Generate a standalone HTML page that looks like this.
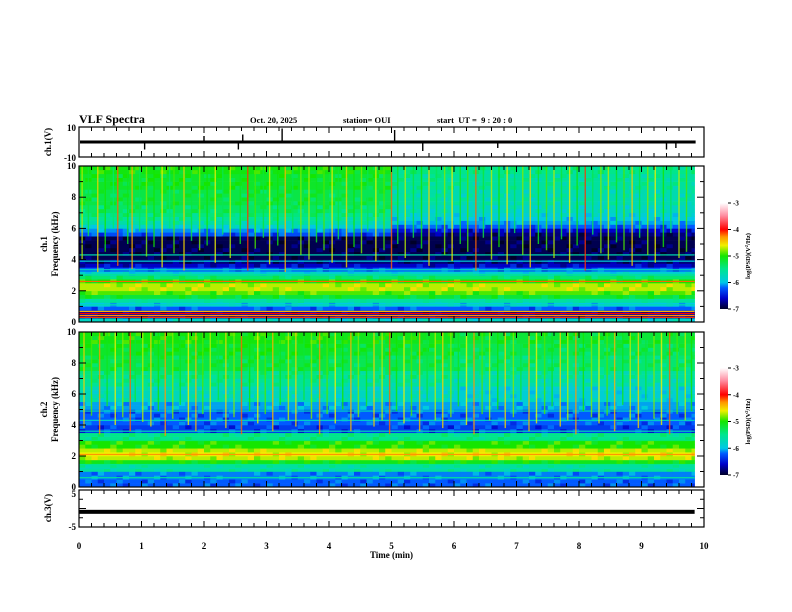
<!DOCTYPE html>
<html><head><meta charset="utf-8"><style>
html,body{margin:0;padding:0;background:#fff}
svg{display:block}
text{font-family:"Liberation Serif",serif;font-weight:bold;fill:#000}
</style></head><body>
<svg id="fig" width="792" height="612" viewBox="0 0 792 612" xmlns="http://www.w3.org/2000/svg">
<defs>
<linearGradient id="cbar" x1="0" y1="1" x2="0" y2="0">
<stop offset="0" stop-color="#000028"/><stop offset="0.1" stop-color="#0000c8"/><stop offset="0.2" stop-color="#005aff"/><stop offset="0.25" stop-color="#00c8e6"/><stop offset="0.38" stop-color="#00e68c"/><stop offset="0.5" stop-color="#14e600"/><stop offset="0.6" stop-color="#f0f000"/><stop offset="0.68" stop-color="#ff9600"/><stop offset="0.75" stop-color="#ff0000"/><stop offset="0.88" stop-color="#ff8ca0"/><stop offset="1" stop-color="#ffffff"/>
</linearGradient>
</defs>
<text x="79" y="123" font-size="12">VLF Spectra</text>
<text x="250" y="123" font-size="8.5">Oct. 20, 2025</text>
<text x="343" y="123" font-size="8.5">station= OUI</text>
<text x="437" y="123" font-size="8.5" xml:space="preserve">start  UT =  9 : 20 : 0</text>
<g id="layer"></g>
</svg>
<script>
// ---- data ----
const timeTicks = [0,1,2,3,4,5,6,7,8,9,10];
const dataEnd = 9.85;
const ch1Profile = [-5.8,-6.7,-6.7,-6.3,-6.0,-5.6,-5.2,-4.9,-4.7,-4.7,-5.0,-5.4,-5.9,-6.3,-6.6,-6.8,-6.9,-6.9,-6.9,-6.9,-6.9,-6.9,-6.4,-6.2,-5.9,-5.7,-5.6,-5.5,-5.4,-5.4,-5.3,-5.3,-5.3,-5.3,-5.2,-5.2,-5.2,-5.2,-5.1,-5.1];
const ch1Offset = [0.05,0.05,0.05,0.05,0.0,-0.35,-0.4,-0.4,-0.4,-0.4];
const ch2Profile = [-6.3,-6.3,-6.2,-6.2,-5.6,-5.6,-5.1,-4.7,-4.6,-4.7,-5.0,-5.0,-5.5,-5.5,-6.4,-6.4,-6.3,-6.3,-6.3,-6.3,-6.1,-6.1,-5.8,-5.8,-5.8,-5.8,-5.6,-5.6,-5.5,-5.5,-5.3,-5.3,-5.3,-5.3,-5.2,-5.2,-5.2,-5.1,-5.1,-5.1];
const ch2Offset = [0.05,0.05,0.05,0.05,0.0,0.0,-0.1,-0.1,-0.1,-0.1];
const streak1T = [0.05,0.15,0.3,0.42,0.55,0.62,0.78,0.85,0.97,1.08,1.2,1.33,1.45,1.52,1.68,1.8,1.93,2.05,2.18,2.3,2.42,2.58,2.7,2.82,2.95,3.05,3.18,3.3,3.42,3.55,3.68,3.8,3.92,4.05,4.15,4.28,4.4,4.52,4.62,4.75,4.88,5.0,5.1,5.22,5.35,5.48,5.6,5.72,5.85,5.97,6.1,6.22,6.35,6.47,6.6,6.72,6.85,6.97,7.1,7.22,7.35,7.48,7.6,7.72,7.85,7.97,8.1,8.22,8.35,8.47,8.6,8.72,8.85,8.97,9.1,9.22,9.35,9.47,9.6,9.72];
const streak1V = [-4.7,-5.2,-4.5,-5.0,-5.4,-4.2,-5.1,-4.4,-5.3,-4.8,-5.0,-4.6,-5.4,-4.9,-4.5,-5.2,-4.8,-5.0,-4.6,-5.3,-4.7,-5.1,-4.1,-4.9,-5.2,-4.6,-5.0,-4.4,-5.3,-4.8,-4.7,-5.1,-4.9,-4.6,-5.2,-4.5,-5.0,-4.8,-5.3,-4.6,-4.9,-4.2,-5.1,-4.7,-5.2,-5.0,-4.5,-5.3,-4.8,-4.6,-5.1,-4.9,-4.2,-5.2,-4.7,-5.0,-4.6,-5.3,-4.8,-4.5,-5.1,-4.9,-4.7,-5.2,-4.6,-5.0,-4.1,-5.3,-4.8,-4.7,-5.1,-4.9,-4.5,-5.2,-4.8,-4.6,-5.0,-5.3,-4.7,-4.9];
const streak1F = [4.0,5.5,3.2,4.5,6.0,3.6,5.0,3.4,5.8,4.2,4.8,3.5,6.0,4.4,3.3,5.2,4.6,4.9,3.8,5.6,4.1,5.0,3.3,4.7,5.4,3.7,4.9,3.2,5.7,4.3,4.0,5.1,4.6,3.8,5.3,3.5,4.8,4.4,5.8,3.9,4.6,3.4,5.0,4.1,5.4,4.7,3.6,5.8,4.3,3.9,5.0,4.5,3.3,5.4,4.0,4.8,3.7,5.7,4.3,3.5,5.0,4.6,4.1,5.3,3.8,4.9,3.3,5.6,4.4,4.0,5.1,4.6,3.6,5.4,4.3,3.8,4.8,5.7,4.1,4.5];
const streak2T = [0.08,0.2,0.33,0.45,0.58,0.7,0.82,0.9,1.02,1.15,1.27,1.38,1.5,1.62,1.75,1.87,1.98,2.1,2.23,2.35,2.48,2.6,2.73,2.86,2.98,3.1,3.22,3.35,3.47,3.6,3.72,3.85,3.97,4.1,4.22,4.35,4.47,4.6,4.72,4.85,4.97,5.08,5.2,5.32,5.45,5.57,5.7,5.82,5.95,6.07,6.2,6.32,6.45,6.57,6.7,6.82,6.95,7.07,7.2,7.32,7.45,7.57,7.7,7.82,7.95,8.07,8.2,8.32,8.45,8.57,8.7,8.82,8.95,9.07,9.2,9.32,9.45,9.57,9.7,9.8];
const streak2V = [-4.5,-4.9,-4.3,-5.1,-4.6,-4.8,-4.2,-5.2,-4.7,-4.5,-5.0,-4.3,-4.8,-5.1,-4.6,-4.4,-4.9,-4.7,-5.2,-4.5,-4.8,-4.2,-5.0,-4.6,-4.9,-4.4,-5.1,-4.7,-4.5,-5.2,-4.8,-4.3,-4.9,-4.6,-5.0,-4.4,-4.8,-5.1,-4.5,-4.7,-4.2,-5.0,-4.6,-4.9,-4.4,-5.2,-4.7,-4.5,-4.8,-5.1,-4.6,-4.3,-4.9,-4.7,-5.0,-4.5,-4.8,-5.2,-4.4,-4.6,-4.9,-5.1,-4.5,-4.7,-4.3,-5.0,-4.8,-4.6,-4.9,-4.4,-5.1,-4.7,-4.5,-5.2,-4.8,-4.6,-4.2,-4.9,-4.7,-5.0];
const streak2F = [3.8,4.6,3.4,5.2,4.0,4.5,3.6,5.5,4.2,3.9,4.9,3.3,4.4,5.3,4.0,3.6,4.7,4.3,5.6,3.8,4.5,3.4,4.9,4.1,4.7,3.6,5.3,4.3,3.9,5.6,4.4,3.4,4.7,4.1,5.0,3.6,4.5,5.2,3.9,4.3,3.4,4.9,4.1,4.6,3.6,5.5,4.3,3.8,4.5,5.2,4.0,3.4,4.7,4.3,5.0,3.8,4.5,5.6,3.6,4.1,4.7,5.2,3.9,4.3,3.4,4.9,4.5,4.1,4.6,3.6,5.3,4.3,3.8,5.6,4.4,4.0,3.4,4.7,4.3,4.9];
const line1F = [0.3,0.42,0.55,0.68,1.1,1.35,2.6,3.05,3.35,3.9,4.3];
const line1V = [-4.1,-4.3,-4.0,-4.4,-5.7,-5.6,-4.2,-5.6,-5.8,-5.9,-5.7];
const line2F = [0.6,1.2,1.45,2.1,3.0,3.6,4.3,4.9];
const line2V = [-5.6,-5.7,-5.5,-4.3,-5.4,-5.7,-5.8,-5.8];
const spikeT = [1.05,2.0,2.55,2.62,3.25,5.05,5.5,6.7,9.4,9.55];
const spikeV = [-5,4,-5,5,9,8,-6,-4,-5,-4];
const ch3Level = -0.9;

// ---- layout ----
const X0=79, X1=704, L=document.getElementById('layer'), NS='http://www.w3.org/2000/svg';
const xs = t => X0 + (X1-X0)*t/10;
function mk(tag, attrs, parent){const e=document.createElementNS(NS,tag);for(const k in attrs)e.setAttribute(k,attrs[k]);(parent||L).appendChild(e);return e;}
const stops=[[-7,[0,0,40]],[-6.6,[0,0,200]],[-6.3,[0,90,255]],[-6.0,[0,200,230]],[-5.5,[0,230,140]],[-5.0,[20,230,0]],[-4.6,[240,240,0]],[-4.3,[255,150,0]],[-4.0,[255,0,0]],[-3.5,[255,140,160]],[-3,[255,255,255]]];
function cmap(v){if(v<=-7)return 'rgb(0,0,40)';if(v>=-3)return '#fff';for(let i=0;i<stops.length-1;i++){const a=stops[i],b=stops[i+1];if(v<=b[0]){const f=(v-a[0])/(b[0]-a[0]);const c=a[1].map((x,k)=>Math.round(x+(b[1][k]-x)*f));return `rgb(${c})`;}}}

function ticksX(yTop,yBot,name){
  const g=mk('g',{});
  for(let i=0;i<=50;i++){const t=i*0.2,x=xs(t),len=(i%5===0)?6:4;
    mk('line',{x1:x,y1:yTop,x2:x,y2:yTop+len,stroke:'#000','stroke-width':1},g);
    mk('line',{x1:x,y1:yBot,x2:x,y2:yBot-len,stroke:'#000','stroke-width':1},g);}
}
function ticksY(yTop,yBot,nMinor,major,name){
  const g=mk('g',{});
  for(let i=0;i<=nMinor;i++){const y=yBot-(yBot-yTop)*i/nMinor,len=(i%major===0)?7:4;
    mk('line',{x1:X0,y1:y,x2:X0+len,y2:y,stroke:'#000'},g);mk('line',{x1:X1,y1:y,x2:X1-len,y2:y,stroke:'#000'},g);}
}
function frame(yT,yB,name){const r=mk('rect',{x:X0,y:yT,width:X1-X0,height:yB-yT,fill:'none',stroke:'#000','stroke-width':1.2});}
function label(x,y,s,size,anchor,rot,name){const t=mk('text',{x:x,y:y,'font-size':size,'text-anchor':anchor||'end'});if(rot)t.setAttribute('transform',`rotate(-90 ${x} ${y})`);t.textContent=s;return t;}

// ---- ch1 waveform ----
const W1T=127,W1B=157; const wy=v=>W1T+(W1B-W1T)*(10-v)/20;
frame(W1T,W1B,'ch1-waveform-frame');
mk('rect',{x:X0+1,y:wy(0)-1.5,width:xs(dataEnd)-X0,height:3,fill:'#000'});
spikeT.forEach((t,i)=>{const l=mk('line',{x1:xs(t),y1:wy(0),x2:xs(t),y2:wy(spikeV[i]),stroke:'#000','stroke-width':1.4});});
ticksX(W1T,W1B,'ch1-x-ticks');
label(76,W1T+4,'10',9,'end',0,'ch1-ytick-10');label(76,W1B+4,'-10',9,'end',0,'ch1-ytick-neg10');
label(51,142,'ch.1(V)',9,'middle',true,'ch1-y-title');

// ---- spectrograms ----
function spectro(yT,yB,profile,offset,sT,sV,sF,lF,lV,name){
  const g=mk('g',{});
  const fy=f=>yB-(yB-yT)*f/10; const nb=profile.length, df=10/nb;
  for(let i=0;i*0.1<dataEnd;i++){const t=i*0.1,w=Math.min(0.1,dataEnd-t);
    for(let j=0;j<nb;j++){let v=profile[j]+(j>=22?offset[Math.floor(t)]:0);
      if(((i*7+j*3)%5)===0)v+=0.15; if(((i*3+j*5)%7)===0)v-=0.15;
      const r=mk('rect',{x:xs(t),y:fy((j+1)*df),width:xs(t+w)-xs(t)+0.3,height:fy(j*df)-fy((j+1)*df)+0.3,fill:cmap(v)},g);
      }}
  lF.forEach((f,i)=>{const r=mk('rect',{x:X0,y:fy(f)-0.6,width:xs(dataEnd)-X0,height:1.2,fill:cmap(lV[i])},g);});
  sT.forEach((t,i)=>{const r=mk('rect',{x:xs(t)-0.7,y:yT,width:1.4,height:fy(sF[i])-yT,fill:cmap(sV[i]),opacity:0.8},g);});
}
function specAxes(yT,yB,ch,cbT,cbB){
  frame(yT,yB,`ch${ch}-spectrogram-frame`);ticksX(yT,yB,`ch${ch}-spec-x-ticks`);ticksY(yT,yB,10,2,`ch${ch}-spec-y-ticks`);
  [0,2,4,6,8,10].forEach(f=>label(76,yB-(yB-yT)*f/10+3,String(f),9,'end',0,`ch${ch}-freq-tick-${f}`));
  const mid=(yT+yB)/2;label(47,mid,`ch.${ch}`,9,'middle',true,`ch${ch}-y-title-line1`);label(58,mid,'Frequency  (kHz)',9,'middle',true,`ch${ch}-y-title-line2`);
  const cb=mk('rect',{x:720,y:cbT,width:8,height:cbB-cbT,fill:'url(#cbar)'});
  for(let k=0;k<=4;k++){const y=cbT+(cbB-cbT)*k/4;mk('line',{x1:728,y1:y,x2:731,y2:y,stroke:'#000'});label(733,y+2.5,String(-3-k),7,'start',0,`ch${ch}-cbar-tick`);}
  const lt=mk('text',{x:750,y:(cbT+cbB)/2,'font-size':6.5,'text-anchor':'middle',transform:`rotate(-90 750 ${(cbT+cbB)/2})`});
  lt.innerHTML='log(PSD)(V<tspan font-size="4.5" dy="-2">2</tspan><tspan dy="2">/Hz)</tspan>';
}
spectro(166,322,ch1Profile,ch1Offset,streak1T,streak1V,streak1F,line1F,line1V,'ch1-spectrogram');
specAxes(166,322,1,203,309);
spectro(332,487,ch2Profile,ch2Offset,streak2T,streak2V,streak2F,line2F,line2V,'ch2-spectrogram');
specAxes(332,487,2,368,475);

// ---- ch3 ----
const C3T=490,C3B=527;const c3y=v=>C3T+(C3B-C3T)*(5-v)/10;
frame(C3T,C3B,'ch3-frame');
mk('rect',{x:X0,y:c3y(ch3Level)-2,width:xs(dataEnd)-X0,height:4,fill:'#000'});
ticksX(C3T,C3B,'ch3-x-ticks');ticksY(C3T,C3B,4,2,'ch3-y-ticks');
label(76,C3T+7,'5',9,'end',0,'ch3-ytick-5');label(76,C3B+3,'-5',9,'end',0,'ch3-ytick-neg5');
label(51,508,'ch.3(V)',9,'middle',true,'ch3-y-title');
timeTicks.forEach(t=>label(xs(t),549,String(t),9,'middle',0,'time-tick-'+t));
label(xs(5),558,'Time  (min)',9,'middle',0,'x-axis-title');
</script>
</body></html>
